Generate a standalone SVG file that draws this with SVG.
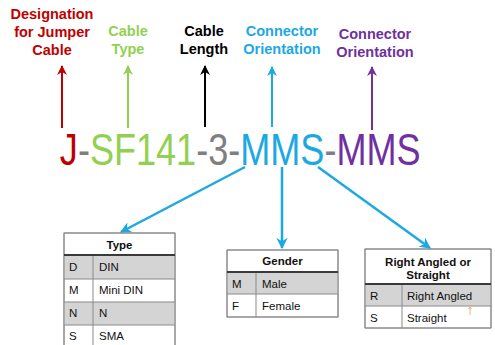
<svg xmlns="http://www.w3.org/2000/svg" width="495" height="345" viewBox="0 0 495 345">
<style>
.lbl{font-family:"Liberation Sans",Arial,sans-serif;font-weight:bold;font-size:14.5px;text-anchor:middle}
.code{font-family:"Liberation Sans",Arial,sans-serif;font-size:44px}
.th{font-family:"Liberation Sans",Arial,sans-serif;font-weight:bold;font-size:11.5px;text-anchor:middle;fill:#111}
.td{font-family:"Liberation Sans",Arial,sans-serif;font-size:11.5px;fill:#111}
.box{fill:#fff;stroke:#8a8a8a;stroke-width:1}
.shade{fill:#d4d4d4}
.grid{stroke:#8a8a8a;stroke-width:1;fill:none}
.hdr{stroke:#3a3a3a;stroke-width:2}
.up{stroke-width:2;fill:none}
.down{stroke:#1CA9E2;stroke-width:2.5;fill:none;marker-end:url(#ab)}
</style>
<defs>
<marker id="ar" viewBox="0 0 10 10" refX="9" refY="5" markerWidth="5" markerHeight="5" orient="auto" markerUnits="strokeWidth"><path d="M0,0L10,5L0,10L3,5Z" fill="#C00000"/></marker>
<marker id="ag" viewBox="0 0 10 10" refX="9" refY="5" markerWidth="5" markerHeight="5" orient="auto" markerUnits="strokeWidth"><path d="M0,0L10,5L0,10L3,5Z" fill="#92D050"/></marker>
<marker id="ak" viewBox="0 0 10 10" refX="9" refY="5" markerWidth="5" markerHeight="5" orient="auto" markerUnits="strokeWidth"><path d="M0,0L10,5L0,10L3,5Z" fill="#000"/></marker>
<marker id="ac" viewBox="0 0 10 10" refX="9" refY="5" markerWidth="5" markerHeight="5" orient="auto" markerUnits="strokeWidth"><path d="M0,0L10,5L0,10L3,5Z" fill="#1CA9E2"/></marker>
<marker id="ap" viewBox="0 0 10 10" refX="9" refY="5" markerWidth="5" markerHeight="5" orient="auto" markerUnits="strokeWidth"><path d="M0,0L10,5L0,10L3,5Z" fill="#7030A0"/></marker>
<marker id="ab" viewBox="0 0 10 10" refX="9" refY="5" markerWidth="4.5" markerHeight="4.5" orient="auto" markerUnits="strokeWidth"><path d="M0,0L10,5L0,10L3,5Z" fill="#1CA9E2"/></marker>
</defs>

<g id="label-designation" class="lbl" fill="#C00000">
<text x="52" y="19">Designation</text>
<text x="52" y="37">for Jumper</text>
<text x="52" y="55">Cable</text>
</g>
<g id="label-type" class="lbl" fill="#92D050">
<text x="128" y="36">Cable</text>
<text x="128" y="54">Type</text>
</g>
<g id="label-length" class="lbl" fill="#000">
<text x="204" y="36">Cable</text>
<text x="204" y="54">Length</text>
</g>
<g id="label-orient1" class="lbl" fill="#1CA9E2">
<text x="282" y="36">Connector</text>
<text x="282" y="54">Orientation</text>
</g>
<g id="label-orient2" class="lbl" fill="#7030A0">
<text x="375" y="39">Connector</text>
<text x="375" y="57">Orientation</text>
</g>

<g id="code" transform="scale(0.82,1)">
<text class="code" x="73" y="165"><tspan fill="#C00000">J</tspan><tspan fill="#7F7F7F">-</tspan><tspan fill="#92D050">SF141</tspan><tspan fill="#7F7F7F">-3-</tspan><tspan fill="#1CA9E2">MMS</tspan><tspan fill="#7F7F7F">-</tspan><tspan fill="#7030A0">MMS</tspan></text>
</g>

<g id="connectors">
<line class="up" x1="62" y1="128" x2="62" y2="66" stroke="#C00000" marker-end="url(#ar)"/>
<line class="up" x1="128" y1="128" x2="128" y2="66" stroke="#92D050" marker-end="url(#ag)"/>
<line class="up" x1="205" y1="127" x2="205" y2="66" stroke="#000" marker-end="url(#ak)"/>
<line class="up" x1="272" y1="127" x2="272" y2="67" stroke="#1CA9E2" marker-end="url(#ac)"/>
<line class="up" x1="372" y1="130" x2="372" y2="67" stroke="#7030A0" marker-end="url(#ap)"/>
<line class="down" x1="245" y1="167" x2="121" y2="232"/>
<line class="down" x1="282" y1="167" x2="282" y2="248"/>
<line class="down" x1="318" y1="167" x2="430" y2="248"/>
</g>

<g id="table-type">
<rect class="box" x="64" y="233" width="111" height="115"/>
<rect class="shade" x="64.5" y="255" width="110" height="24"/>
<rect class="shade" x="64.5" y="302" width="110" height="23"/>
<path class="grid" d="M64,279H175M64,302H175M64,325H175M93,255V348M64,233V348H175V233Z"/>
<line class="hdr" x1="64" y1="255" x2="175" y2="255"/>
<text class="th" x="119.5" y="249">Type</text>
<text class="td" x="69" y="271">D</text><text class="td" x="99" y="271">DIN</text>
<text class="td" x="69" y="294">M</text><text class="td" x="99" y="294">Mini DIN</text>
<text class="td" x="69" y="317">N</text><text class="td" x="99" y="317">N</text>
<text class="td" x="69" y="340">S</text><text class="td" x="99" y="340">SMA</text>
</g>

<g id="table-gender">
<rect class="box" x="227" y="250" width="111" height="67"/>
<rect class="shade" x="227.5" y="272" width="110" height="22"/>
<path class="grid" d="M227,294H338M256,272V317M227,250V317H338V250Z"/>
<line class="hdr" x1="227" y1="272" x2="338" y2="272"/>
<text class="th" x="282.5" y="265">Gender</text>
<text class="td" x="232" y="288">M</text><text class="td" x="262" y="288">Male</text>
<text class="td" x="232" y="310">F</text><text class="td" x="262" y="310">Female</text>
</g>

<g id="table-orientation">
<rect class="box" x="365" y="249" width="126" height="79"/>
<rect class="shade" x="365.5" y="284" width="125" height="22"/>
<path class="grid" d="M365,306H491M402,284V328M365,249V328H491V249Z"/>
<line class="hdr" x1="365" y1="284" x2="491" y2="284"/>
<text class="th" x="428" y="266">Right Angled or</text>
<text class="th" x="428" y="279">Straight</text>
<text class="td" x="370" y="300">R</text><text class="td" x="407" y="300">Right Angled</text>
<text class="td" x="370" y="322">S</text><text class="td" x="407" y="322">Straight</text>
<path d="M470,307V315M468.5,309L470,307L471.5,309" stroke="#E8A060" stroke-width="0.8" fill="none"/>
</g>
</svg>
